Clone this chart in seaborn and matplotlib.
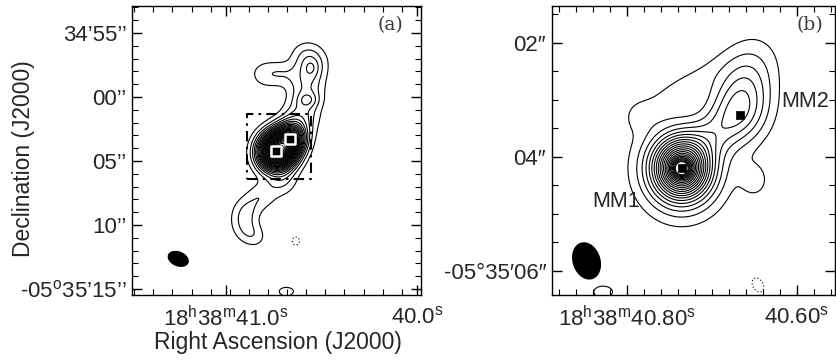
import numpy as np
import pandas as pd
import matplotlib
matplotlib.use("Agg")
import matplotlib.pyplot as plt
import seaborn as sns

# ---------------- data ----------------
# Panel (a): low-resolution map, emission modelled as elliptical Gaussian components
# RA in seconds of time (18h38m..s), Dec offset in arcsec from -05d35m00s
comp_a_ra = [40.732, 40.664, 40.712,                                  # core
             40.625, 40.600, 40.578, 40.580, 40.560, 40.568,          # NE ridge
             40.571, 40.553,                                          # NE knots
             40.795, 40.705,                                          # NE lobe
             40.702, 40.812, 40.895, 40.905, 40.853,                  # SW tongue
             40.634, 40.684]                                          # isolated
comp_a_dec = [-4.24, -3.30, -3.90,
              -2.20, -1.20, 0.00, 1.20, 2.30, 3.30,
              -0.23, 2.27,
              1.75, 1.85,
              -6.72, -7.73, -8.83, -10.08, -10.86,
              -11.25, -15.20]
comp_a_amp = [70.0, 35.0, 8.0,
              5.5, 5.5, 5.5, 5.5, 5.5, 5.2,
              4.6, 3.0,
              4.4, 3.7,
              4.6, 4.7, 5.0, 4.4, 3.8,
              -3.8, 4.6]
comp_a_smaj = [0.95, 0.80, 1.30,
               0.80, 0.80, 0.80, 0.80, 0.80, 0.80,
               0.55, 0.50,
               0.90, 0.80,
               0.85, 0.85, 0.85, 0.85, 0.75,
               0.45, 0.60]
comp_a_smin = [0.90, 0.75, 1.15,
               0.95, 0.95, 0.95, 0.95, 0.95, 0.95,
               0.40, 0.42,
               0.80, 0.65,
               0.75, 0.75, 0.75, 0.75, 0.65,
               0.40, 0.35]
comp_a_pa = [-30, -30, -40,
             -10, -10, 0, 0, 0, -10,
             90, 0,
             80, 80,
             -60, -60, -30, 10, 60,
             0, 90]
levels_a = [3, 6, 9, 12, 15, 18, 21, 24, 27, 30, 33, 36, 39, 42, 45, 48, 51, 54, 57, 60,
            63, 66, 69, 72, 75, 78, 81, 84, 87, 90, 93, 96, 99, 102, 105, 108]
neg_levels_a = [-3]

# Panel (b): high-resolution map
comp_b_ra = [40.7357, 40.7357, 40.7357, 40.7357,   # MM1
             40.667, 40.6615, 40.700,              # MM2 + arm + bridge
             40.7377, 40.786, 40.6496,             # faint extensions
             40.828, 40.646]                       # isolated
comp_b_dec = [-4.204, -4.204, -4.204, -4.204,
              -3.24, -2.65, -3.62,
              -2.83, -3.25, -4.41,
              -6.37, -6.25]
comp_b_amp = [8.0, 10.0, 7.0, 1.5,
              3.6, 2.8, 1.6,
              1.2, 0.8, 1.4,
              1.4, -1.4]
comp_b_smaj = [0.10, 0.30, 0.46, 0.62,
               0.42, 0.50, 0.45,
               0.60, 0.20, 0.22,
               0.20, 0.16]
comp_b_smin = [0.10, 0.28, 0.42, 0.58,
               0.36, 0.35, 0.25,
               0.20, 0.20, 0.18,
               0.12, 0.11]
comp_b_pa = [0, 0, 0, 0,
             -20, -25, -50,
             -56, 0, 0,
             90, 30]
levels_b = [1, 2, 3, 4, 5, 6, 7, 8, 9, 10, 11, 12, 13, 14, 15, 16, 17, 18, 19, 20, 21, 22]
neg_levels_b = [-1]

# Continuum peaks
src_names = ["MM1", "MM2"]
src_ra = [40.7357, 40.667]
src_dec = [-4.204, -3.27]

# Synthesized beams: major, minor FWHM (arcsec), PA (deg)
beam_a = [1.72, 1.17, 68]
beam_b = [0.67, 0.49, 18]

# Axis ranges
xlim_a = [41.492, 39.979]
ylim_a = [-15.47, 7.11]
xlim_b = [40.8885, 40.5553]
ylim_b = [-6.426, -1.356]

xticks_a = [41.0, 40.0]
xticklabels_a = [r"18$^{\rm h}$38$^{\rm m}$41.0$^{\rm s}$", r"40.0$^{\rm s}$"]
yticks_a = [5, 0, -5, -10, -15]
yticklabels_a = ["34’55’’", "00’’", "05’’", "10’’", r"-05$^{\rm o}$35’15’’"]
xticks_b = [40.80, 40.60]
xticklabels_b = [r"18$^{\rm h}$38$^{\rm m}$40.80$^{\rm s}$", r"40.60$^{\rm s}$"]
yticks_b = [-2, -4, -6]
yticklabels_b = ["02″", "04″", "-05°35′06″"]

# ---------------- helpers ----------------
COSD = np.cos(np.deg2rad(-5.58))
SEC2AS = 15.0 * COSD


def field(RA, DEC, ras, decs, amps, smaj, smin, pas):
    Z = np.zeros_like(RA)
    for r, d, a, s1, s2, p in zip(ras, decs, amps, smaj, smin, pas):
        e = (RA - r) * SEC2AS
        n = DEC - d
        th = np.deg2rad(p)
        u = e * np.sin(th) + n * np.cos(th)
        v = e * np.cos(th) - n * np.sin(th)
        Z += a * np.exp(-0.5 * (u ** 2 / s1 ** 2 + v ** 2 / s2 ** 2))
    return Z


def beam_poly(ra0, dec0, bmaj, bmin, pa, n=100):
    t = np.linspace(0, 2 * np.pi, n)
    u = 0.5 * bmaj * np.cos(t)
    v = 0.5 * bmin * np.sin(t)
    th = np.deg2rad(pa)
    e = u * np.sin(th) + v * np.cos(th)
    nn = u * np.cos(th) - v * np.sin(th)
    return ra0 + e / SEC2AS, dec0 + nn


# ---------------- style ----------------
sns.set_theme(style="ticks")
plt.rcParams["font.family"] = ["Liberation Sans", "DejaVu Sans"]
plt.rcParams["mathtext.fontset"] = "custom"
plt.rcParams["mathtext.rm"] = "Liberation Sans"
plt.rcParams["mathtext.it"] = "Liberation Sans:italic"
plt.rcParams["axes.edgecolor"] = "black"
plt.rcParams["axes.linewidth"] = 1.0

fig = plt.figure(figsize=(8.36, 3.62), dpi=100)
W, H = 836.0, 362.0
ax_a = fig.add_axes([132 / W, 1 - 295 / H, 289 / W, 289 / H])
ax_b = fig.add_axes([551.7 / W, 1 - 295 / H, 283.3 / W, 289 / H])

TICKFS = 16
DOTTED = [(0, (1, 2))]

# ---------------- panel (a) ----------------
ra_g = np.linspace(xlim_a[1], xlim_a[0], 450)
dec_g = np.linspace(ylim_a[0], ylim_a[1], 450)
RA, DEC = np.meshgrid(ra_g, dec_g)
Za = field(RA, DEC, comp_a_ra, comp_a_dec, comp_a_amp, comp_a_smaj, comp_a_smin, comp_a_pa)
ax_a.contour(RA, DEC, Za, levels=levels_a, colors="black", linewidths=0.8, linestyles="solid")
ax_a.contour(RA, DEC, Za, levels=neg_levels_a, colors="black", linewidths=0.8, linestyles=DOTTED)

# zoom box = panel (b) extent
bx = [xlim_b[0], xlim_b[1], xlim_b[1], xlim_b[0], xlim_b[0]]
by = [ylim_b[0], ylim_b[0], ylim_b[1], ylim_b[1], ylim_b[0]]
ax_a.plot(bx, by, color="black", lw=1.5, ls=(0, (5, 2.5, 1.2, 2.5)))

src_df = pd.DataFrame({"ra": src_ra, "dec": src_dec, "name": src_names})
sns.scatterplot(data=src_df, x="ra", y="dec", ax=ax_a, marker="s", s=45,
                color="black", edgecolor="white", linewidth=1.8, zorder=5, legend=False)

bra, bdec = beam_poly(xlim_a[0] - 0.16 * (xlim_a[0] - xlim_a[1]),
                      ylim_a[0] + 0.125 * (ylim_a[1] - ylim_a[0]), *beam_a)
ax_a.fill(bra, bdec, color="black", lw=0)

ax_a.set_xlim(*xlim_a)
ax_a.set_ylim(*ylim_a)
ax_a.set_xticks(xticks_a)
ax_a.set_xticklabels(xticklabels_a, fontsize=TICKFS)
ax_a.set_xticks(np.arange(39.98, 41.5, 0.1).round(2), minor=True)
ax_a.set_yticks(yticks_a)
ax_a.set_yticklabels(yticklabels_a, fontsize=TICKFS)
ax_a.set_yticks(np.arange(-15, 8, 1), minor=True)
ax_a.set_xlabel("Right Ascension (J2000)", fontsize=16.5, va="top")
ax_a.set_ylabel("Declination (J2000)", fontsize=16.5)
ax_a.xaxis.set_label_coords(0.505, -0.125)
ax_a.yaxis.set_label_coords(-0.335, 0.472)
ax_a.text(0.893, 0.934, "(a)", transform=ax_a.transAxes, ha="center", va="center",
          fontsize=13.5, family="DejaVu Serif", color="#3a3a3a")

# ---------------- panel (b) ----------------
ra_g = np.linspace(xlim_b[1], xlim_b[0], 450)
dec_g = np.linspace(ylim_b[0], ylim_b[1], 450)
RB, DB = np.meshgrid(ra_g, dec_g)
Zb = field(RB, DB, comp_b_ra, comp_b_dec, comp_b_amp, comp_b_smaj, comp_b_smin, comp_b_pa)
ax_b.contour(RB, DB, Zb, levels=levels_b, colors="black", linewidths=0.8, linestyles="solid")
ax_b.contour(RB, DB, Zb, levels=neg_levels_b, colors="black", linewidths=0.8, linestyles=DOTTED)
sns.scatterplot(data=src_df, x="ra", y="dec", ax=ax_b, marker="s", s=40,
                color="black", edgecolor="black", linewidth=0.5, zorder=5, legend=False)
for nm, tx, ty in zip(src_names, [0.227, 0.895], [0.322, 0.668]):
    ax_b.text(tx, ty, nm, transform=ax_b.transAxes, ha="center", va="center", fontsize=15.5)

bra, bdec = beam_poly(xlim_b[0] - 0.123 * (xlim_b[0] - xlim_b[1]),
                      ylim_b[0] + 0.118 * (ylim_b[1] - ylim_b[0]), *beam_b)
ax_b.fill(bra, bdec, color="black", lw=0)

ax_b.set_xlim(*xlim_b)
ax_b.set_ylim(*ylim_b)
ax_b.set_xticks(xticks_b)
ax_b.set_xticklabels(xticklabels_b, fontsize=TICKFS)
ax_b.set_xticks(np.arange(40.56, 40.89, 0.02).round(2), minor=True)
ax_b.set_yticks(yticks_b)
ax_b.set_yticklabels(yticklabels_b, fontsize=TICKFS)
ax_b.set_yticks(np.arange(-6.0, -1.4, 0.5), minor=True)
ax_b.text(0.913, 0.934, "(b)", transform=ax_b.transAxes, ha="center", va="center",
          fontsize=13.5, family="DejaVu Serif", color="#3a3a3a")

for ax in (ax_a, ax_b):
    ax.tick_params(which="both", direction="in", top=True, right=True, color="black")
    ax.tick_params(which="major", length=7, width=1.0, pad=8)
    ax.tick_params(which="minor", length=4, width=0.8)
    ax.tick_params(axis="y", which="major", pad=4)
    for s in ax.spines.values():
        s.set_visible(True)
        s.set_color("black")
        s.set_linewidth(1.0)
    ax.set_facecolor("white")
ax_b.set_xlabel("")
ax_b.set_ylabel("")

fig.savefig("out.png", dpi=100, facecolor="white")
